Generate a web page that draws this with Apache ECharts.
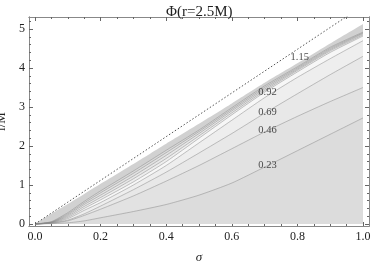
<!DOCTYPE html>
<html><head><meta charset="utf-8">
<script src="https://cdn.jsdelivr.net/npm/echarts@6/dist/echarts.min.js"></script>
<style>html,body{margin:0;padding:0;background:#fff}#c{width:374px;height:264px}</style>
</head><body><div id="c"></div>
<script>
// sigma sample positions
const sigma = [0, 0.05, 0.1, 0.15, 0.2, 0.3, 0.4, 0.5, 0.6, 0.7, 0.8, 0.9, 1.0];
// upper edge of the filled region
const edgeL = [0, 0.26, 0.51, 0.77, 1.03, 1.54, 2.06, 2.57, 3.09, 3.62, 4.12, 4.63, 5.13];
// dotted limit line
const limitL = [0, 0.28, 0.56, 0.84, 1.12, 1.68, 2.24, 2.8, 3.36, 3.92, 4.48, 5.04, 5.6];
// contour lines (top to bottom)
const lineA  = [0, 0.06, 0.29, 0.58, 0.85, 1.36, 1.89, 2.41, 2.98, 3.54, 4.03, 4.53, 4.92];
const lineD4 = [0, 0.05, 0.26, 0.54, 0.8, 1.3, 1.83, 2.37, 2.94, 3.5, 4.0, 4.5, 4.9];
const lineD3 = [0, 0.045, 0.23, 0.5, 0.74, 1.23, 1.76, 2.32, 2.9, 3.46, 3.97, 4.47, 4.88];
const lineD2 = [0, 0.04, 0.2, 0.45, 0.68, 1.16, 1.68, 2.26, 2.85, 3.42, 3.94, 4.44, 4.85];
const lineD1 = [0, 0.035, 0.17, 0.4, 0.62, 1.08, 1.6, 2.2, 2.8, 3.38, 3.9, 4.4, 4.82];
const line092 = [0, 0.03, 0.14, 0.35, 0.55, 1.0, 1.5, 2.08, 2.66, 3.24, 3.76, 4.24, 4.7];
const line069 = [0, 0.025, 0.1, 0.26, 0.46, 0.88, 1.33, 1.82, 2.32, 2.84, 3.34, 3.83, 4.3];
const line046 = [0, 0.02, 0.08, 0.22, 0.38, 0.72, 1.1, 1.5, 1.93, 2.36, 2.76, 3.14, 3.5];
const line023 = [0, 0.01, 0.03, 0.08, 0.16, 0.32, 0.5, 0.74, 1.05, 1.46, 1.88, 2.3, 2.72];
// contour labels
const labelText = ['1.15', '0.92', '0.69', '0.46', '0.23'];
const labelSigma = [0.807, 0.709, 0.709, 0.709, 0.709];
const labelL = [4.28, 3.38, 2.87, 2.41, 1.51];
// ticks
const xMajor = [0, 0.2, 0.4, 0.6, 0.8, 1.0];
const xMinor = [0.05,0.1,0.15,0.25,0.3,0.35,0.45,0.5,0.55,0.65,0.7,0.75,0.85,0.9,0.95];
const yMajor = [0, 1, 2, 3, 4, 5];
const yMinor = [0.2,0.4,0.6,0.8,1.2,1.4,1.6,1.8,2.2,2.4,2.6,2.8,3.2,3.4,3.6,3.8,4.2,4.4,4.6,4.8,5.2];

const pts = arr => sigma.map((s, i) => [s, arr[i]]);
const FONT = 'Liberation Serif';
const X_MIN = -0.0183, X_MAX = 1.0183, Y_MIN = -0.051, Y_MAX = 5.308;

const bands = [
  [edgeL, '#d1d1d1', 0],
  [lineA, '#dadada', 0.5],
  [lineD4, '#e1e1e1', 0.5],
  [lineD3, '#e7e7e7', 0.5],
  [lineD2, '#eeeeee', 0.5],
  [lineD1, '#f7f7f7', 0.5],
  [line092, '#eeeeee', 0.5],
  [line069, '#e8e8e8', 0.5],
  [line046, '#e2e2e2', 0.5],
  [line023, '#dcdcdc', 0.5]
];
const series = bands.map(([arr, col, w]) => ({
  type: 'line', data: pts(arr), smooth: 0.2, symbol: 'none',
  lineStyle: { color: '#888', width: w },
  areaStyle: { color: col, opacity: 1, origin: 0 },
  silent: true, animation: false, z: 2
}));
series.push({
  type: 'line', data: pts(limitL), symbol: 'none',
  lineStyle: { color: '#555', width: 1, type: [1.5, 2] }, animation: false, z: 3
});
series.push({
  type: 'scatter', symbolSize: 0, animation: false, z: 10,
  data: labelText.map((t, i) => ({ value: [labelSigma[i], labelL[i]], name: t })),
  label: { show: true, position: 'inside', formatter: p => p.name,
    fontFamily: FONT, fontSize: 10.5, color: '#222' },
  labelLayout: { hideOverlap: false }
});

function xAx(pos, vals, len, labels) {
  return {
    type: 'value', position: pos, min: X_MIN, max: X_MAX,
    axisLine: { show: true, onZero: false, lineStyle: { color: '#888', width: 1 } },
    axisTick: { show: true, inside: true, length: len, customValues: vals, lineStyle: { color: '#666' } },
    axisLabel: labels ? { show: true, customValues: xMajor, formatter: v => v.toFixed(1),
      fontFamily: FONT, fontSize: 12, color: '#222', margin: 5 } : { show: false },
    splitLine: { show: false },
    name: labels ? 'σ' : '', nameLocation: 'middle', nameGap: 25,
    nameTextStyle: { fontFamily: FONT, fontStyle: 'italic', fontSize: 13, color: '#222' }
  };
}
function yAx(pos, vals, len, labels) {
  return {
    type: 'value', position: pos, min: Y_MIN, max: Y_MAX,
    axisLine: { show: true, onZero: false, lineStyle: { color: '#888', width: 1 } },
    axisTick: { show: true, inside: true, length: len, customValues: vals, lineStyle: { color: '#666' } },
    axisLabel: labels ? { show: true, customValues: yMajor, formatter: v => String(Math.round(v)),
      fontFamily: FONT, fontSize: 12, color: '#222', margin: 4 } : { show: false },
    splitLine: { show: false },
    name: labels ? 'l/M' : '', nameLocation: 'middle', nameGap: 12, nameRotate: 90,
    nameTextStyle: { fontFamily: FONT, fontSize: 13, color: '#222' }
  };
}

const chart = echarts.init(document.getElementById('c'), null, { renderer: 'canvas' });
chart.setOption({
  animation: false,
  backgroundColor: '#fff',
  title: { text: 'Φ(r=2.5M)', left: 161, top: 0,
    textStyle: { fontFamily: FONT, fontWeight: 'normal', fontSize: 15, color: '#222' } },
  grid: { left: 29, right: 5, top: 17, bottom: 38, containLabel: false, outerBoundsMode: 'none' },
  xAxis: [xAx('bottom', xMajor, 4, true), xAx('bottom', xMinor, 2, false),
          xAx('top', xMajor, 4, false), xAx('top', xMinor, 2, false)],
  yAxis: [yAx('left', yMajor, 4, true), yAx('left', yMinor, 2, false),
          yAx('right', yMajor, 4, false), yAx('right', yMinor, 2, false)],
  series: series
});
</script></body></html>
